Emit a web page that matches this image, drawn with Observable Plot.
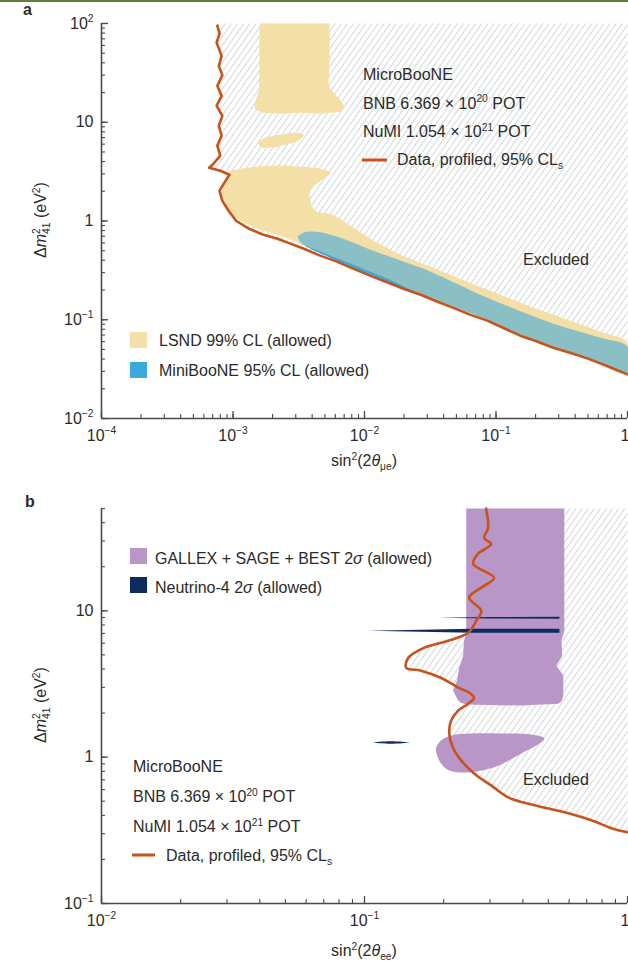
<!DOCTYPE html>
<html><head><meta charset="utf-8">
<script src="https://cdn.jsdelivr.net/npm/d3@7"></script>
<script src="https://cdn.jsdelivr.net/npm/@observablehq/plot@0.6"></script>
<style>
body{margin:0;background:#fff;}
#wrap{position:relative;width:628px;height:961px;overflow:hidden;background:#fff;}
#topbar{position:absolute;left:0;top:0;width:628px;height:2px;background:#5f7f3e;}
svg{display:block;}
</style></head><body><div id="wrap"><div id="chart"></div><div id="topbar"></div></div>
<script>
// ---------------- Panel a data ----------------
const xTicksA = [1e-4, 1e-3, 1e-2, 1e-1, 1];
const xLabelsA = ["10^{−4}", "10^{−3}", "10^{−2}", "10^{−1}", "1"];
const yTicksA = [1e-2, 1e-1, 1, 10, 100];
const yLabelsA = ["10^{−2}", "10^{−1}", "1", "10", "10^{2}"];

// MicroBooNE data, profiled, 95% CLs  [sin2(2theta_mue), dm2_41]
const redA = [[7.6e-4,95],[7.9e-4,79],[7.5e-4,64],[8.2e-4,47],[7.8e-4,37],[8.3e-4,30],[7.6e-4,23.4],[8.2e-4,18.5],[7.5e-4,14.7],[8.3e-4,11.6],[7.8e-4,9.2],[8.2e-4,7.3],[7.6e-4,5.8],[8.0e-4,4.6],[7.1e-4,3.8],[6.6e-4,3.46],[8.0e-4,3.23],[9.4e-4,2.94],[8.6e-4,2.44],[7.9e-4,2.03],[8.3e-4,1.6],[9.25e-4,1.27],[1.06e-3,1.0],[1.31e-3,0.84],[1.68e-3,0.73],[2.18e-3,0.66],[2.73e-3,0.59],[3.5e-3,0.52],[4.6e-3,0.446],[6.1e-3,0.39],[8.2e-3,0.329],[1.1e-2,0.28],[0.015,0.238],[0.02,0.205],[0.0267,0.179],[0.036,0.152],[0.0475,0.132],[0.064,0.112],[0.086,0.098],[0.115,0.082],[0.153,0.069],[0.2,0.061],[0.273,0.052],[0.37,0.046],[0.5,0.0404],[0.7,0.034],[1.0,0.028]];

// LSND 99% CL allowed (three pieces)
const lsndTop = [[1.59e-3,100],[5.42e-3,100],[5.42e-3,41.9],[5.32e-3,23.4],[5.81e-3,19.9],[6.57e-3,16.5],[7.05e-3,14.4],[6.57e-3,12.8],[4.63e-3,12.2],[3.26e-3,12.5],[2.30e-3,12.2],[1.675e-3,12.5],[1.46e-3,13.7],[1.48e-3,16.5],[1.56e-3,19.9],[1.59e-3,26.3]];
const lsndIsland = [[1.56e-3,6.2],[1.77e-3,6.97],[2.30e-3,7.47],[2.99e-3,7.83],[3.44e-3,7.47],[3.13e-3,6.5],[2.51e-3,5.92],[1.93e-3,5.52],[1.62e-3,5.65]];
const lsndMain = [[8.9e-4,3.08],[1.14e-3,3.38],[1.93e-3,3.63],[3.26e-3,3.55],[4.63e-3,3.38],[5.51e-3,3.08],[4.63e-3,2.56],[3.88e-3,2.03],[3.88e-3,1.60],[4.24e-3,1.27],[5.71e-3,1.16],[8.25e-3,0.855],[1.11e-2,0.662],[1.88e-2,0.456],[3.18e-2,0.345],[6.07e-2,0.243],[0.108,0.179],[0.193,0.132],[0.35,0.100],[0.623,0.0758],[1.0,0.0586],[1.0,0.0285],[0.496,0.0404],[0.274,0.0521],[0.153,0.069],[0.0861,0.098],[0.0475,0.132],[0.0267,0.181],[0.015,0.26],[8.25e-3,0.361],[4.63e-3,0.49],[2.74e-3,0.647],[2.18e-3,0.726],[1.675e-3,0.80],[1.31e-3,0.92],[1.045e-3,1.08],[9.4e-4,1.27],[8.6e-4,1.6],[8.3e-4,2.03],[8.9e-4,2.44],[9.55e-4,2.87]];

// MiniBooNE 95% CL allowed
const miniboone = [[3.09e-3,0.694],[3.44e-3,0.762],[4.24e-3,0.78],[6.23e-3,0.694],[1.11e-2,0.513],[1.98e-2,0.388],[3.18e-2,0.307],[8.61e-2,0.167],[0.274,0.0913],[0.623,0.0659],[1.0,0.0535],[1.0,0.0292],[0.496,0.041],[0.274,0.0535],[0.153,0.0707],[0.0861,0.100],[0.0475,0.136],[0.0267,0.181],[0.015,0.243],[8.25e-3,0.337],[5.51e-3,0.425],[3.88e-3,0.525],[3.26e-3,0.603]];

// ---------------- Panel b data ----------------
const xTicksB = [1e-2, 1e-1, 1];
const xLabelsB = ["10^{−2}", "10^{−1}", "1"];
const yTicksB = [0.1, 1, 10];
const yLabelsB = ["10^{−1}", "1", "10"];

const redB = [[0.29,50],[0.295,36.8],[0.285,31.5],[0.303,28.6],[0.27,24.5],[0.259,20.9],[0.311,16.8],[0.278,14.4],[0.25,12.3],[0.278,10],[0.266,8.55],[0.248,7.08],[0.208,6.25],[0.169,5.6],[0.147,4.79],[0.144,4.08],[0.164,3.9],[0.195,3.49],[0.227,2.99],[0.25,2.76],[0.261,2.55],[0.248,2.32],[0.227,2.08],[0.2135,1.78],[0.21,1.45],[0.217,1.16],[0.233,0.95],[0.261,0.774],[0.303,0.641],[0.352,0.531],[0.443,0.469],[0.596,0.413],[0.729,0.37],[0.869,0.327],[1.0,0.307]];

// GALLEX + SAGE + BEST 2 sigma allowed (two pieces)
const galliumUpper = [[0.2436,50],[0.575,50],[0.575,7.31],[0.561,6.25],[0.565,4.93],[0.536,4.22],[0.57,3.61],[0.57,2.63],[0.562,2.42],[0.546,2.32],[0.3945,2.25],[0.2436,2.29],[0.232,2.36],[0.227,2.44],[0.217,2.85],[0.225,3.34],[0.229,4.08],[0.237,4.93],[0.239,6.25],[0.2436,6.97]];
const galliumLower = [[0.187,1.146],[0.1954,1.30],[0.2135,1.406],[0.2547,1.45],[0.331,1.45],[0.4305,1.428],[0.483,1.341],[0.45,1.2],[0.3945,1.06],[0.331,0.892],[0.29,0.824],[0.2436,0.786],[0.21,0.811],[0.1954,0.906],[0.189,1.027]];

// Neutrino-4 2 sigma allowed (three thin islands)
const n4Upper = [[0.1905,8.96],[0.30,9.06],[0.551,9.1],[0.551,8.82],[0.30,8.87]];
const n4Middle = [[0.1031,7.30],[0.164,7.41],[0.2547,7.54],[0.551,7.54],[0.551,7.08],[0.2547,7.08],[0.164,7.19]];
const n4Lower = [[0.1077,1.259],[0.126,1.285],[0.1477,1.259],[0.126,1.235]];

// ---------------- Texts ----------------
const infoLines = ["MicroBooNE", "BNB 6.369 × 10^{20} POT", "NuMI 1.054 × 10^{21} POT"];
const dataLabel = "Data, profiled, 95% CL_{s}";
const legendA = [["LSND 99% CL (allowed)", "#f4dfa6"], ["MiniBooNE 95% CL (allowed)", "#3aa9de"]];
const legendB = [["GALLEX + SAGE + BEST 2*σ* (allowed)", "#b996c8"], ["Neutrino-4 2*σ* (allowed)", "#0c2c5e"]];
const excludedLabel = "Excluded";
const xTitleA = "sin^{2}(2*θ*_{μe})";
const xTitleB = "sin^{2}(2*θ*_{ee})";
const yTitle = "Δ*m*^{2}&{41} (eV^{2})";

// ---------------- Styling ----------------
const W = 628;
const FONT = "'Liberation Sans', Arial, Helvetica, sans-serif";
const INK = "#2b2b2b";
const AXIS = "#4a4a4a";
const RED = "#c9521b";
const YEL = legendA[0][1], BLUE = legendA[1][1], PURP = legendB[0][1], NAVY = legendB[1][1];

function parseRich(str) {
  const re = /(\^\{[^}]*\}|_\{[^}]*\}|&\{[^}]*\}|\*[^*]*\*)/g;
  return str.split(re).filter(s => s !== "").map(p => {
    if (p.startsWith("^{")) return {t: p.slice(2, -1), k: "sup"};
    if (p.startsWith("_{")) return {t: p.slice(2, -1), k: "sub"};
    if (p.startsWith("&{")) return {t: p.slice(2, -1), k: "stack"};
    if (p.startsWith("*")) return {t: p.slice(1, -1), k: "it"};
    return {t: p, k: "n"};
  });
}
function renderRich(sel, str, fs) {
  sel.text(null);
  let shift = 0, lastSupW = 0;
  for (const s of parseRich(str)) {
    let target = 0, size = null, dx = 0;
    if (s.k === "sup") { target = -0.4 * fs; size = 0.64 * fs; lastSupW = s.t.length * 0.556 * size; }
    if (s.k === "sub") { target = 0.24 * fs; size = 0.64 * fs; }
    if (s.k === "stack") { target = 0.26 * fs; size = 0.64 * fs; dx = -lastSupW; }
    const t = sel.append("tspan").text(s.t);
    if (target !== shift) { t.attr("dy", target - shift); shift = target; }
    if (dx) t.attr("dx", dx);
    if (size) t.attr("font-size", size);
    if (s.k === "it") t.attr("font-style", "italic");
  }
}
function addText(svg, x, y, str, o = {}) {
  const size = o.size || 16;
  const t = d3.select(svg).append("text").attr("x", x).attr("y", y)
    .attr("font-size", size).attr("fill", INK).attr("font-family", FONT)
    .attr("text-anchor", o.anchor || "start");
  if (o.weight) t.attr("font-weight", o.weight);
  if (o.rotate) t.attr("transform", `rotate(${o.rotate},${x},${y})`);
  renderRich(t, str, size);
  return t;
}
function addHatch(svg, id) {
  const defs = d3.select(svg).insert("defs", ":first-child");
  const p = defs.append("pattern").attr("id", id).attr("patternUnits", "userSpaceOnUse")
    .attr("width", 5).attr("height", 5).attr("patternTransform", "rotate(35)");
  p.append("line").attr("x1", 2.5).attr("y1", 0).attr("x2", 2.5).attr("y2", 5)
    .attr("stroke", "#d4d7da").attr("stroke-width", 1.1);
}
const poly = (data, o) => Plot.line(data, {x: d => d[0], y: d => d[1], stroke: "none", ...o});

function makePanel(cfg) {
  const ml = 101, mr = 1;
  const pw = W - ml - mr, ph = cfg.height - cfg.mt - cfg.mb;
  const xMinor = d3.scaleLog().domain(cfg.xDomain).ticks();
  const yMinor = d3.scaleLog().domain(cfg.yDomain).ticks();
  const xLab = new Map(cfg.xTicks.map((d, i) => [d, cfg.xLabels[i]]));
  const yLab = new Map(cfg.yTicks.map((d, i) => [d, cfg.yLabels[i]]));
  const last = cfg.xTicks[cfg.xTicks.length - 1];
  const svg = Plot.plot({
    width: W, height: cfg.height,
    marginTop: cfg.mt, marginBottom: cfg.mb, marginLeft: ml, marginRight: mr,
    style: {fontFamily: FONT, fontSize: "16px", color: INK, background: "transparent", overflow: "visible"},
    x: {type: "log", domain: cfg.xDomain, label: null},
    y: {type: "log", domain: cfg.yDomain, label: null},
    marks: [
      ...cfg.marks,
      Plot.tickX(xMinor, {x: d => d, insetTop: ph - 4, stroke: AXIS, strokeWidth: 1.1}),
      Plot.tickX(cfg.xTicks, {x: d => d, insetTop: ph - 7, stroke: AXIS, strokeWidth: 1.3}),
      Plot.tickY(yMinor, {y: d => d, insetRight: pw - 4, stroke: AXIS, strokeWidth: 1.1}),
      Plot.tickY(cfg.yTicks, {y: d => d, insetRight: pw - 7, stroke: AXIS, strokeWidth: 1.3}),
      Plot.ruleX([cfg.xDomain[0]], {stroke: AXIS, strokeWidth: 1.6}),
      Plot.ruleY([cfg.yDomain[0]], {stroke: AXIS, strokeWidth: 1.6}),
      Plot.axisX(cfg.xTicks.filter(d => d !== last), {tickSize: 0, tickPadding: 11, tickFormat: d => xLab.get(d), label: null}),
      Plot.axisX([last], {tickSize: 0, tickPadding: 11, tickFormat: d => xLab.get(d), label: null, textAnchor: "end", dx: 2}),
      Plot.axisY(cfg.yTicks, {tickSize: 0, tickPadding: 8, tickFormat: d => yLab.get(d), label: null})
    ]
  });
  d3.select(svg).selectAll('g[aria-label="x-axis tick label"] text, g[aria-label="y-axis tick label"] text')
    .each(function () { renderRich(d3.select(this), this.textContent, 16); });
  return svg;
}

// ---------------- Panel a ----------------
const excludedA = [...redA, [xTicksA[4], yTicksA[4]], [redA[0][0], yTicksA[4]]];
const svgA = makePanel({
  height: 480, mt: 23, mb: 62,
  xDomain: [1e-4, 1], yDomain: [1e-2, 100],
  xTicks: xTicksA, xLabels: xLabelsA, yTicks: yTicksA, yLabels: yLabelsA,
  marks: [
    poly(excludedA, {fill: "url(#hatchA)"}),
    poly(miniboone, {fill: BLUE, curve: "catmull-rom"}),
    poly(lsndTop, {fill: YEL}),
    poly(lsndIsland, {fill: YEL, curve: "catmull-rom-closed"}),
    poly(lsndMain, {fill: YEL, curve: "catmull-rom"}),
    poly(miniboone, {fill: BLUE, fillOpacity: 0.57, curve: "catmull-rom"}),
    Plot.line(redA, {x: d => d[0], y: d => d[1], stroke: RED, strokeWidth: 2.6})
  ]
});
addHatch(svgA, "hatchA");
addText(svgA, 23, 15, "a", {weight: "bold", size: 16});
infoLines.forEach((s, i) => addText(svgA, 363, 80 + i * 28.5, s));
d3.select(svgA).append("line").attr("x1", 362).attr("x2", 387).attr("y1", 160).attr("y2", 160)
  .attr("stroke", RED).attr("stroke-width", 3);
addText(svgA, 397, 165, dataLabel);
legendA.forEach(([s, c], i) => {
  d3.select(svgA).append("rect").attr("x", 130).attr("y", 332 + i * 30).attr("width", 17).attr("height", 16).attr("fill", c);
  addText(svgA, 159, 346 + i * 30, s);
});
addText(svgA, 523, 265, excludedLabel);
addText(svgA, 364, 466, xTitleA, {anchor: "middle"});
addText(svgA, 46, 220, yTitle, {anchor: "middle", rotate: -90});

// ---------------- Panel b ----------------
const excludedB = [...redB, [xTicksB[2], 50], [redB[0][0], 50]];
const svgB = makePanel({
  height: 481, mt: 28, mb: 58,
  xDomain: [1e-2, 1], yDomain: [0.1, 50],
  xTicks: xTicksB, xLabels: xLabelsB, yTicks: yTicksB, yLabels: yLabelsB,
  marks: [
    poly(excludedB, {fill: "url(#hatchB)"}),
    poly(galliumUpper, {fill: PURP}),
    poly(galliumLower, {fill: PURP, curve: "catmull-rom-closed"}),
    poly(n4Upper, {fill: NAVY}),
    poly(n4Middle, {fill: NAVY}),
    poly(n4Lower, {fill: NAVY, curve: "catmull-rom-closed"}),
    Plot.line(redB, {x: d => d[0], y: d => d[1], stroke: RED, strokeWidth: 2.6, curve: "catmull-rom"})
  ]
});
addHatch(svgB, "hatchB");
addText(svgB, 25, 27, "b", {weight: "bold", size: 16});
legendB.forEach(([s, c], i) => {
  d3.select(svgB).append("rect").attr("x", 130).attr("y", 68 + i * 29).attr("width", 17).attr("height", 16).attr("fill", c);
  addText(svgB, 155, 84 + i * 29, s);
});
infoLines.forEach((s, i) => addText(svgB, 133, 292 + i * 30, s));
d3.select(svgB).append("line").attr("x1", 132).attr("x2", 155).attr("y1", 375).attr("y2", 375)
  .attr("stroke", RED).attr("stroke-width", 3);
addText(svgB, 166, 381, dataLabel);
addText(svgB, 523, 305, excludedLabel);
addText(svgB, 364, 476, xTitleB, {anchor: "middle"});
addText(svgB, 46, 225, yTitle, {anchor: "middle", rotate: -90});

const chart = document.getElementById("chart");
chart.appendChild(svgA);
chart.appendChild(svgB);
</script></body></html>
